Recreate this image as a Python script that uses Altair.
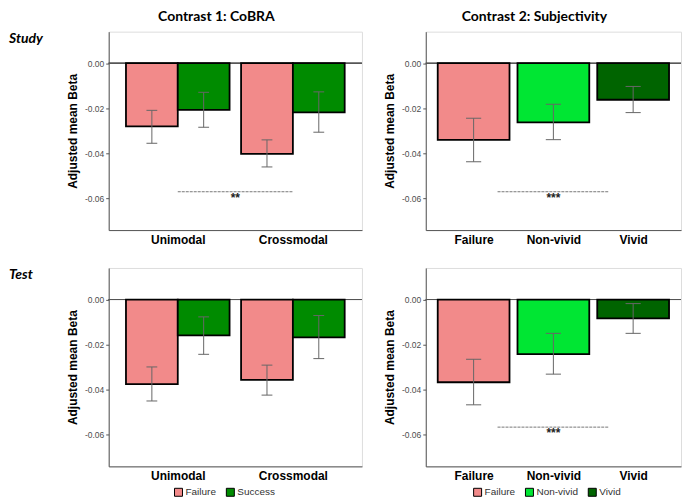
import altair as alt
import pandas as pd

# ---------------- data ----------------
cobra_groups = ["Unimodal", "Crossmodal"]
cobra_conditions = ["Failure", "Success"]
# order: Unimodal-Failure, Unimodal-Success, Crossmodal-Failure, Crossmodal-Success
study_cobra_mean = [-0.0280, -0.0207, -0.0402, -0.0218]
study_cobra_lo = [-0.0355, -0.0284, -0.0460, -0.0306]
study_cobra_hi = [-0.0209, -0.0129, -0.0340, -0.0127]
test_cobra_mean = [-0.0375, -0.0159, -0.0356, -0.0168]
test_cobra_lo = [-0.0450, -0.0243, -0.0424, -0.0262]
test_cobra_hi = [-0.0299, -0.0077, -0.0291, -0.0071]

subj_groups = ["Failure", "Non-vivid", "Vivid"]
study_subj_mean = [-0.0340, -0.0262, -0.0162]
study_subj_lo = [-0.0437, -0.0339, -0.0219]
study_subj_hi = [-0.0244, -0.0182, -0.0103]
test_subj_mean = [-0.0367, -0.0242, -0.0084]
test_subj_lo = [-0.0467, -0.0331, -0.0150]
test_subj_hi = [-0.0265, -0.0150, -0.0018]

# significance annotations: (x start, x end, y, label)
study_cobra_sig = [1.0, 2.0, -0.057, "**"]
study_subj_sig = [1.3, 2.7, -0.057, "***"]
test_subj_sig = [1.3, 2.7, -0.0566, "***"]

cobra_colors = ["#F28A8A", "#008B00"]
subj_colors = ["#F28A8A", "#00E633", "#006400"]

y_ticks = [-0.06, -0.04, -0.02, 0.0]
y_domain = [-0.074, 0.014]

# ---------------- layout ----------------
W1, W2, H = 254, 256, 199
TITLE_FONT = "Lato"
BASE_FONT = "Liberation Sans"


def y_enc(field):
    return alt.Y(
        field,
        scale=alt.Scale(domain=y_domain, nice=False, zero=False),
        axis=alt.Axis(
            values=y_ticks,
            labelExpr="replace(format(datum.value, '.2f'), '\u2212', '-')",
            title="Adjusted mean Beta",
            titleFont=BASE_FONT,
            titleFontSize=12,
            titleFontWeight="bold",
            titleColor="black",
            titlePadding=5,
            labelFont=BASE_FONT,
            labelFontSize=8.5,
            labelColor="#4d4d4d",
            tickSize=3,
            tickColor="#555555",
            domainColor="#555555",
            grid=False,
        ),
    )


def x_enc(field, domain, names):
    expr = " : ".join(
        [f"datum.value == {i + 1} ? '{n}'" for i, n in enumerate(names)]
    ) + " : ''"
    return alt.X(
        field,
        scale=alt.Scale(domain=domain, nice=False, zero=False),
        axis=alt.Axis(
            values=list(range(1, len(names) + 1)),
            labelExpr=expr,
            title=None,
            ticks=False,
            labelFont=BASE_FONT,
            labelFontSize=12,
            labelFontWeight="bold",
            labelColor="black",
            labelPadding=4,
            domainColor="#555555",
            grid=False,
        ),
    )


def panel(df, domain, names, color_domain, color_range, cap, sig, title,
          row_label, legend_x, width):
    if sig is not None:
        sig_df = pd.DataFrame({"x0": [sig[0]], "x1": [sig[1]], "y": [sig[2]],
                               "xm": [(sig[0] + sig[1]) / 2], "label": [sig[3]]})
    if legend_x is None:
        legend = None
    else:
        legend = alt.Legend(
            title=None, orient="none", direction="horizontal",
            legendX=legend_x, legendY=H + 21,
            symbolType="square", symbolSize=64, symbolStrokeColor="black",
            symbolStrokeWidth=1, labelFont=BASE_FONT, labelFontSize=10,
            labelColor="#333333", labelOffset=2, columnPadding=8,
        )
    df = df.copy()
    df["capl"] = df["xc"] - cap
    df["capr"] = df["xc"] + cap
    base = alt.Chart(df)
    zero = base.mark_rule(color="#555555", strokeWidth=1).encode(y=alt.datum(0))
    bars = base.mark_bar(stroke="black", strokeWidth=1.8).encode(
        x=x_enc("x0:Q", domain, names),
        x2="x1:Q",
        y=y_enc("mean:Q"),
        y2=alt.datum(0),
        color=alt.Color("cond:N", scale=alt.Scale(domain=color_domain, range=color_range),
                        legend=legend),
    )
    err = base.mark_rule(color="#666666", strokeWidth=1).encode(
        x="xc:Q", y="lo:Q", y2="hi:Q")
    cap_lo = base.mark_rule(color="#666666", strokeWidth=1).encode(
        x="capl:Q", x2="capr:Q", y="lo:Q")
    cap_hi = base.mark_rule(color="#666666", strokeWidth=1).encode(
        x="capl:Q", x2="capr:Q", y="hi:Q")
    layers = [zero, bars, err, cap_lo, cap_hi]
    if sig is not None:
        sdf = alt.Chart(sig_df)
        layers.append(sdf.mark_rule(color="#777777", strokeWidth=1, strokeDash=[3, 1]).encode(
            x="x0:Q", x2="x1:Q", y="y:Q"))
        layers.append(sdf.mark_text(baseline="top", dy=1, fontSize=12, fontWeight="bold",
                                    font=BASE_FONT, color="#222222").encode(
            x="xm:Q", y="y:Q", text="label:N"))
    if row_label is not None:
        rl = alt.Chart(pd.DataFrame({"label": [row_label]})).mark_text(
            align="left", baseline="middle", fontSize=14, fontWeight="bold",
            fontStyle="italic", font=TITLE_FONT, color="black",
        ).encode(x=alt.value(-100), y=alt.value(7), text="label:N")
        layers.append(rl)
    props = dict(width=width, height=H)
    if title is not None:
        props["title"] = alt.TitleParams(
            text=title, fontSize=14, fontWeight="bold", font=TITLE_FONT,
            anchor="middle", frame="group", dx=-19, offset=8, color="black")
    return alt.layer(*layers).properties(**props)


def cobra_df(mean, lo, hi):
    rows = []
    k = 0
    for gi, g in enumerate(cobra_groups):
        for ci, c in enumerate(cobra_conditions):
            x0 = gi + 1 - 0.45 if ci == 0 else gi + 1
            x1 = gi + 1 if ci == 0 else gi + 1 + 0.45
            rows.append(dict(group=g, cond=c, x0=x0, x1=x1, xc=(x0 + x1) / 2,
                             mean=mean[k], lo=lo[k], hi=hi[k]))
            k += 1
    return pd.DataFrame(rows)


def subj_df(mean, lo, hi):
    rows = []
    for gi, g in enumerate(subj_groups):
        rows.append(dict(group=g, cond=g, x0=gi + 1 - 0.45, x1=gi + 1 + 0.45, xc=gi + 1,
                         mean=mean[gi], lo=lo[gi], hi=hi[gi]))
    return pd.DataFrame(rows)


p11 = panel(cobra_df(study_cobra_mean, study_cobra_lo, study_cobra_hi), [0.4, 2.6],
            cobra_groups, cobra_conditions, cobra_colors, 0.047, study_cobra_sig,
            "Contrast 1: CoBRA", "Study", None, W1)
p12 = panel(subj_df(study_subj_mean, study_subj_lo, study_subj_hi), [0.4, 3.6],
            subj_groups, subj_groups, subj_colors, 0.095, study_subj_sig,
            "Contrast 2: Subjectivity", None, None, W2)
p21 = panel(cobra_df(test_cobra_mean, test_cobra_lo, test_cobra_hi), [0.4, 2.6],
            cobra_groups, cobra_conditions, cobra_colors, 0.047, None,
            None, "Test", 65, W1)
p22 = panel(subj_df(test_subj_mean, test_subj_lo, test_subj_hi), [0.4, 3.6],
            subj_groups, subj_groups, subj_colors, 0.095, test_subj_sig,
            None, None, 47, W2)

chart = alt.concat(
    p11, p12, p21, p22, columns=2, spacing={"row": 38, "column": 64}, bounds="flush"
).resolve_scale(
    color="independent", x="independent", y="independent"
).resolve_legend(color="independent").properties(
    padding=0, background="white"
).configure_view(stroke=None).configure(font=BASE_FONT)

chart.save("out.html", embed_options={"renderer": "svg", "actions": False})
